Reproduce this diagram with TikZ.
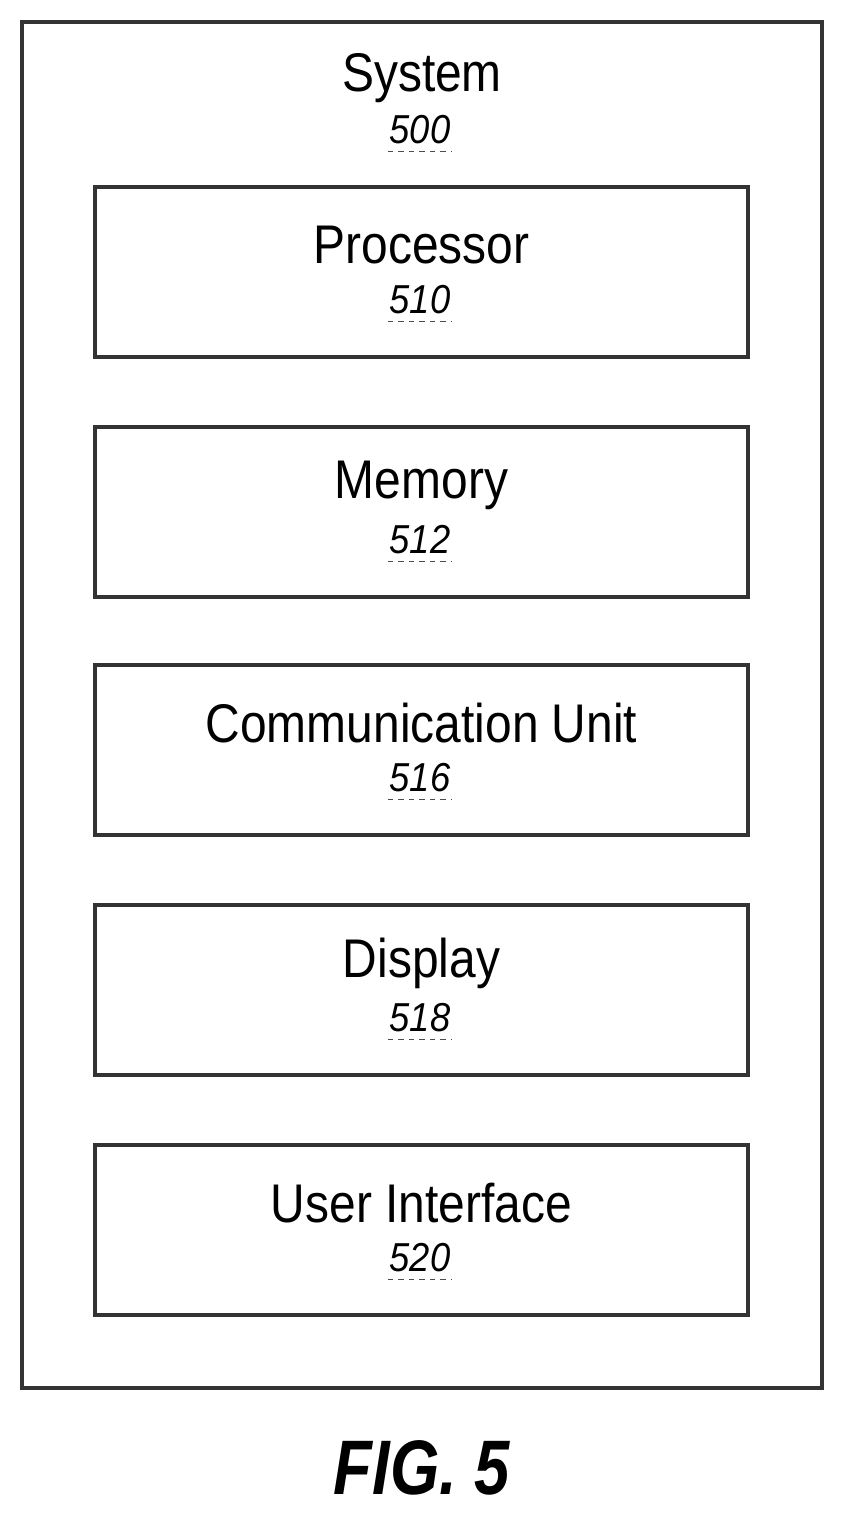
\documentclass[tikz,border=0pt]{standalone}
\usepackage{fontspec}
\setmainfont{Liberation Sans}
\tikzset{
  unitbox/.style = {draw=black!80, line width=2.2pt, minimum width=13.06cm, minimum height=3.4cm},
  title/.style = {font=\fontsize{31}{36}\selectfont, inner sep=0pt, xscale=0.88},
  refnum/.style = {font=\itshape\fontsize{23}{28}\selectfont, inner sep=1pt, xscale=0.9},
}
\newcommand{\refline}[1]{\draw[black!70, dashed, line width=0.6pt] ([yshift=-3pt]#1.south west) -- ([yshift=-3pt]#1.south east);}
\begin{document}
\begin{tikzpicture}[x=0.02cm, y=-0.02cm]
\useasboundingbox (0,0) rectangle (843,1518);

% System frame
\draw[black!80, line width=2.2pt] (22,22) rectangle (822,1388);
\node[title] (sys) at (422,78) {System};
\node[refnum] (sysn) at (420,130) {500};
\refline{sysn}

% Units
\foreach \y/\name/\txt/\num in {272/proc/Processor/510, 512/mem/Memory/512,
    750/comm/Communication Unit/516, 990/disp/Display/518, 1230/ui/User Interface/520}{
  \node[unitbox] (\name) at (421.5,\y) {};
  \node[title] (\name t) at (421.5,\y-27) {\txt};
  \node[refnum] (\name n) at (420,\y+28) {\num};
  \refline{\name n}
}

% Figure label
\node[font=\bfseries\itshape\fontsize{44}{50}\selectfont, xscale=0.82] (fig) at (422,1468) {FIG. 5};
\end{tikzpicture}
\end{document}
